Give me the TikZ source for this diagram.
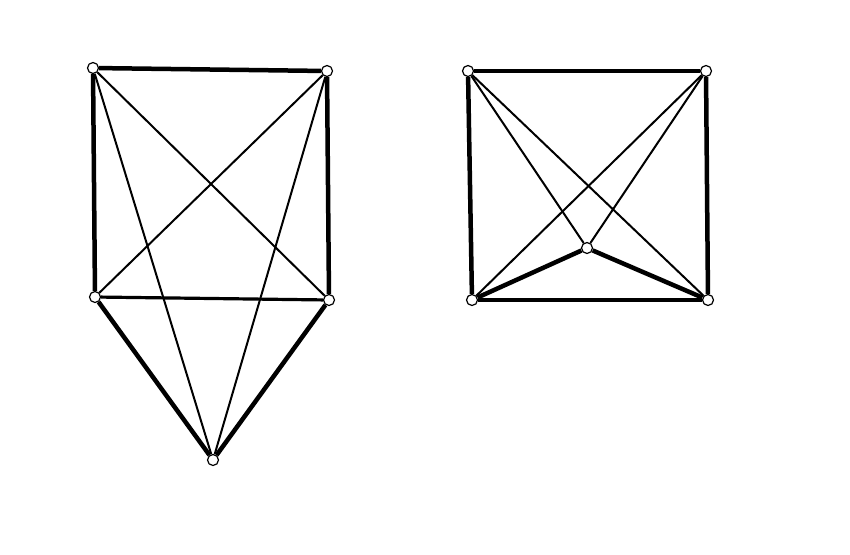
\documentclass[tikz,border=0pt]{standalone}
\usepackage{tikz}
\usetikzlibrary{positioning}

\tikzset{
  vertex/.style={circle, draw, fill=white, line width=1.2pt, inner sep=0pt, minimum size=11pt},
  thick edge/.style={line width=4.5pt},
  mid edge/.style={line width=3.2pt},
  thin edge/.style={line width=2pt}
}

\begin{document}
\begin{tikzpicture}[x=1pt, y=-1pt]
                \useasboundingbox (0,0) rectangle (850,554);
                % left graph
                \node[vertex] (a1) at (93,68) {};
                \node[vertex] (a2) at (327,71) {};
                \node[vertex] (a3) at (95,297) {};
                \node[vertex] (a4) at (329,300) {};
                \node[vertex] (a5) at (213,460) {};
                \draw[thick edge] (a1) -- (a2);
                \draw[thick edge] (a1) -- (a3);
                \draw[thick edge] (a2) -- (a4);
                \draw[mid edge] (a3) -- (a4);
                \draw[thin edge] (a1) -- (a4);
                \draw[thin edge] (a2) -- (a3);
                \draw[thin edge] (a1) -- (a5);
                \draw[thin edge] (a2) -- (a5);
                \draw[thick edge] (a3) -- (a5);
                \draw[thick edge] (a4) -- (a5);
                % right graph
                \node[vertex] (b1) at (468,71) {};
                \node[vertex] (b2) at (706,71) {};
                \node[vertex] (b3) at (472,300) {};
                \node[vertex] (b4) at (708,300) {};
                \node[vertex] (b5) at (587,248) {};
                \draw[thick edge] (b1) -- (b2);
                \draw[thick edge] (b1) -- (b3);
                \draw[thick edge] (b2) -- (b4);
                \draw[mid edge] (b3) -- (b4);
                \draw[thin edge] (b1) -- (b4);
                \draw[thin edge] (b2) -- (b3);
                \draw[thin edge] (b1) -- (b5);
                \draw[thin edge] (b2) -- (b5);
                \draw[thick edge] (b3) -- (b5);
                \draw[thick edge] (b4) -- (b5);
\end{tikzpicture}
\end{document}
